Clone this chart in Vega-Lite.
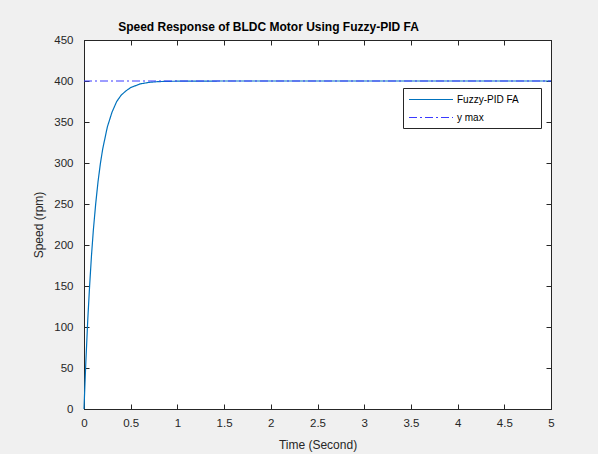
{
  "$schema": "https://vega.github.io/schema/vega-lite/v6.json",
  "width": 467,
  "height": 369,
  "autosize": {"type": "none"},
  "padding": {"left": 84, "top": 40, "right": 47, "bottom": 45},
  "background": "#f0f0f0",
  "title": {
    "text": "Speed Response of BLDC Motor Using Fuzzy-PID FA",
    "font": "Liberation Sans",
    "fontSize": 12,
    "fontWeight": "bold",
    "color": "#000000",
    "anchor": "middle",
    "dx": -49,
    "offset": 0
  },
  "datasets": {
    "resp": [
      {"t": 0, "speed": 0, "series": "Fuzzy-PID FA"},
      {"t": 0.01, "speed": 30, "series": "Fuzzy-PID FA"},
      {"t": 0.02, "speed": 58, "series": "Fuzzy-PID FA"},
      {"t": 0.04, "speed": 108, "series": "Fuzzy-PID FA"},
      {"t": 0.06, "speed": 150, "series": "Fuzzy-PID FA"},
      {"t": 0.08, "speed": 187, "series": "Fuzzy-PID FA"},
      {"t": 0.1, "speed": 218, "series": "Fuzzy-PID FA"},
      {"t": 0.125, "speed": 250, "series": "Fuzzy-PID FA"},
      {"t": 0.15, "speed": 277, "series": "Fuzzy-PID FA"},
      {"t": 0.175, "speed": 299, "series": "Fuzzy-PID FA"},
      {"t": 0.2, "speed": 317, "series": "Fuzzy-PID FA"},
      {"t": 0.25, "speed": 344, "series": "Fuzzy-PID FA"},
      {"t": 0.3, "speed": 362, "series": "Fuzzy-PID FA"},
      {"t": 0.35, "speed": 375, "series": "Fuzzy-PID FA"},
      {"t": 0.4, "speed": 383, "series": "Fuzzy-PID FA"},
      {"t": 0.45, "speed": 388, "series": "Fuzzy-PID FA"},
      {"t": 0.5, "speed": 392, "series": "Fuzzy-PID FA"},
      {"t": 0.6, "speed": 396.4, "series": "Fuzzy-PID FA"},
      {"t": 0.7, "speed": 398.4, "series": "Fuzzy-PID FA"},
      {"t": 0.8, "speed": 399.3, "series": "Fuzzy-PID FA"},
      {"t": 1.0, "speed": 399.8, "series": "Fuzzy-PID FA"},
      {"t": 1.5, "speed": 400, "series": "Fuzzy-PID FA"},
      {"t": 5, "speed": 400, "series": "Fuzzy-PID FA"}
    ],
    "ymax": [
      {"t": 0, "speed": 400, "series": "y max"},
      {"t": 5, "speed": 400, "series": "y max"}
    ]
  },
  "layer": [
    {
      "data": {"name": "resp"},
      "mark": {"type": "line", "strokeWidth": 1.2},
      "encoding": {
        "x": {"field": "t", "type": "quantitative", "scale": {"domain": [0, 5], "nice": false},
              "axis": {"orient": "bottom", "title": "Time (Second)", "format": "~g", "values": [0,0.5,1,1.5,2,2.5,3,3.5,4,4.5,5], "labelPadding": 13, "titlePadding": 11}},
        "y": {"field": "speed", "type": "quantitative", "scale": {"domain": [0, 450], "nice": false},
              "axis": {"orient": "left", "title": "Speed (rpm)", "values": [0,50,100,150,200,250,300,350,400,450], "labelPadding": 16, "titlePadding": 8}},
        "color": {"field": "series", "type": "nominal",
                  "scale": {"domain": ["Fuzzy-PID FA", "y max"], "range": ["#0072BD", "#3a3aff"]},
                  "legend": {"title": "\u00a0", "titleOrient": "right", "titlePadding": 17}},
        "strokeDash": {"field": "series", "type": "nominal",
                  "scale": {"domain": ["Fuzzy-PID FA", "y max"], "range": [[1, 0], [8, 3, 2, 3]]},
                  "legend": {"title": "\u00a0", "titleOrient": "right", "titlePadding": 17}}
      }
    },
    {
      "data": {"name": "ymax"},
      "mark": {"type": "line", "strokeWidth": 1},
      "encoding": {
        "x": {"field": "t", "type": "quantitative", "scale": {"domain": [0, 5], "nice": false},
              "axis": {"orient": "top", "title": null, "labels": false, "values": [0,0.5,1,1.5,2,2.5,3,3.5,4,4.5,5]}},
        "y": {"field": "speed", "type": "quantitative", "scale": {"domain": [0, 450], "nice": false},
              "axis": {"orient": "right", "title": null, "labels": false, "values": [0,50,100,150,200,250,300,350,400,450]}},
        "color": {"field": "series", "type": "nominal",
                  "scale": {"domain": ["Fuzzy-PID FA", "y max"], "range": ["#0072BD", "#3a3aff"]},
                  "legend": {"title": "\u00a0", "titleOrient": "right", "titlePadding": 17}},
        "strokeDash": {"field": "series", "type": "nominal",
                  "scale": {"domain": ["Fuzzy-PID FA", "y max"], "range": [[1, 0], [8, 3, 2, 3]]},
                  "legend": {"title": "\u00a0", "titleOrient": "right", "titlePadding": 17}}
      }
    }
  ],
  "resolve": {"axis": {"x": "independent", "y": "independent"}},
  "config": {
    "view": {"stroke": "#262626", "fill": "#ffffff", "strokeWidth": 1},
    "axis": {
      "grid": false,
      "labelFont": "Liberation Sans",
      "labelFontSize": 11.5,
      "labelColor": "#262626",
      "titleFont": "Liberation Sans",
      "titleFontSize": 12,
      "titleFontWeight": "normal",
      "titleColor": "#262626",
      "domainColor": "#262626",
      "tickColor": "#262626",
      "tickSize": -5,
      "labelFlush": false,
      "labelOverlap": false
    },
    "legend": {
      "orient": "none",
      "legendX": 319,
      "legendY": 48,
      "fillColor": "#ffffff",
      "strokeColor": "#262626",
      "padding": 5,
      "symbolType": "M-1,0H7",
      "symbolSize": 121,
      "symbolStrokeWidth": 1.2,
      "labelFont": "Liberation Sans",
      "labelFontSize": 10,
      "labelColor": "#000000",
      "labelOffset": 36,
      "rowPadding": 6
    }
  }
}
